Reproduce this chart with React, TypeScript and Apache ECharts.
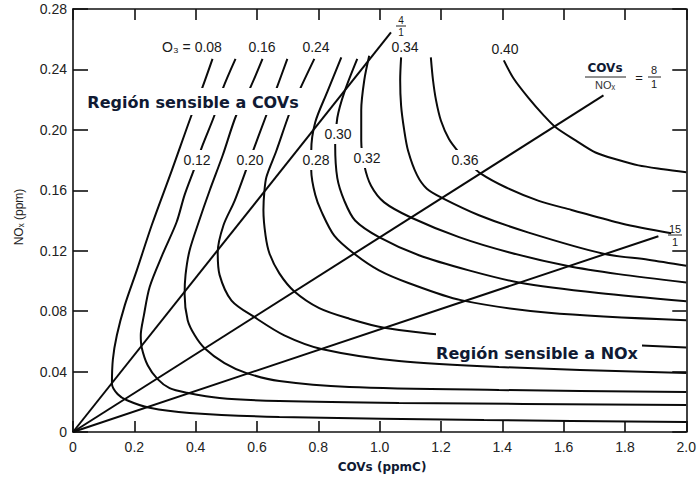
import { useEffect, useRef } from "react";
import * as echarts from "echarts";

// Ozone isopleth levels (ppm)
const ozoneLevels = ["0.08", "0.12", "0.16", "0.20", "0.24", "0.28", "0.30", "0.32", "0.34", "0.36", "0.40"];

// Each isopleth: [COVs (ppmC), NOx (ppm)]
const iso008 = [[0.455, 0.247], [0.420, 0.227], [0.387, 0.210], [0.322, 0.173], [0.257, 0.137], [0.208, 0.107], [0.169, 0.084], [0.143, 0.064], [0.130, 0.048], [0.127, 0.032], [0.146, 0.025], [0.176, 0.021], [0.250, 0.016], [0.380, 0.0126], [0.673, 0.0099], [1.340, 0.0079], [2.0, 0.0066]];
const iso012 = [[0.530, 0.247], [0.488, 0.227], [0.462, 0.210], [0.423, 0.190], [0.397, 0.175], [0.364, 0.157], [0.338, 0.139], [0.293, 0.118], [0.250, 0.096], [0.231, 0.077], [0.221, 0.064], [0.224, 0.056], [0.244, 0.044], [0.276, 0.035], [0.315, 0.029], [0.371, 0.026], [0.478, 0.0225], [0.673, 0.0205], [1.063, 0.0192], [2.0, 0.0179]];
const iso016 = [[0.618, 0.247], [0.576, 0.227], [0.533, 0.210], [0.488, 0.183], [0.446, 0.160], [0.410, 0.139], [0.380, 0.120], [0.367, 0.104], [0.364, 0.091], [0.374, 0.074], [0.397, 0.064], [0.429, 0.0555], [0.494, 0.0456], [0.566, 0.039], [0.673, 0.0337], [0.901, 0.0298], [1.389, 0.0278], [2.0, 0.0264]];
const iso020 = [[0.699, 0.247], [0.663, 0.227], [0.631, 0.210], [0.576, 0.180], [0.527, 0.153], [0.491, 0.137], [0.472, 0.119], [0.478, 0.104], [0.517, 0.087], [0.592, 0.076], [0.689, 0.064], [0.810, 0.055], [1.063, 0.047], [1.389, 0.043], [2.0, 0.039]];
const iso024 = [[0.787, 0.247], [0.738, 0.226], [0.706, 0.211], [0.663, 0.186], [0.631, 0.169], [0.624, 0.159], [0.621, 0.147], [0.628, 0.130], [0.641, 0.118], [0.673, 0.105], [0.722, 0.093], [0.803, 0.082], [0.901, 0.075], [1.015, 0.069], [1.226, 0.064], [1.551, 0.060], [2.0, 0.056]];
const iso028 = [[0.875, 0.248], [0.829, 0.225], [0.790, 0.205], [0.777, 0.186], [0.777, 0.173], [0.790, 0.157], [0.810, 0.146], [0.852, 0.130], [0.917, 0.118], [0.998, 0.107], [1.096, 0.0985], [1.265, 0.0873], [1.551, 0.079], [2.0, 0.074]];
const iso030 = [[0.927, 0.247], [0.885, 0.225], [0.862, 0.208], [0.855, 0.190], [0.862, 0.168], [0.885, 0.153], [0.920, 0.140], [0.998, 0.129], [1.128, 0.117], [1.291, 0.107], [1.454, 0.099], [1.714, 0.092], [2.0, 0.0866]];
const iso032 = [[0.966, 0.249], [0.950, 0.233], [0.940, 0.213], [0.940, 0.193], [0.950, 0.1765], [0.972, 0.163], [1.015, 0.152], [1.102, 0.142], [1.259, 0.129], [1.421, 0.119], [1.610, 0.110], [1.779, 0.1045], [2.0, 0.099]];
const iso034 = [[1.070, 0.248], [1.067, 0.233], [1.070, 0.216], [1.080, 0.200], [1.093, 0.186], [1.122, 0.170], [1.154, 0.161], [1.203, 0.155], [1.324, 0.1435], [1.486, 0.132], [1.730, 0.118], [1.876, 0.114], [2.0, 0.110]];
const iso036 = [[1.167, 0.248], [1.174, 0.233], [1.184, 0.2195], [1.200, 0.206], [1.226, 0.194], [1.259, 0.185], [1.291, 0.178], [1.330, 0.171], [1.411, 0.162], [1.519, 0.153], [1.626, 0.147], [1.789, 0.138], [1.951, 0.1316]];
const iso040 = [[1.405, 0.246], [1.437, 0.234], [1.486, 0.221], [1.535, 0.2096], [1.574, 0.2017], [1.639, 0.193], [1.704, 0.185], [1.779, 0.180], [1.844, 0.1765], [1.925, 0.174], [2.0, 0.172]];

const isopleths = [iso008, iso012, iso016, iso020, iso024, iso028, iso030, iso032, iso034, iso036, iso040];

// COVs/NOx ratio lines
const ratio4 = [[0, 0], [1.037, 0.2645]];
const ratio8 = [[0, 0], [1.73, 0.2228]];
const ratio15 = [[0, 0], [1.909, 0.1296]];

const FONT = '"Liberation Sans", Arial, sans-serif';
const BOLD_FONT = '"DejaVu Sans", Verdana, sans-serif';
const NAVY = "#101a33";

function txt(text: string, x: number, y: number, size: number, extra: any = {}) {
  return {
    type: "text",
    x,
    y,
    z: 100,
    silent: true,
    style: {
      text,
      fontSize: size,
      fontFamily: FONT,
      fill: "#1a1a1a",
      align: "center",
      verticalAlign: "middle",
      textAlign: "center",
      textVerticalAlign: "middle",
      ...extra,
    },
  };
}

function hline(x1: number, x2: number, y: number, w = 1) {
  return { type: "line", z: 100, silent: true, shape: { x1, y1: y, x2, y2: y }, style: { stroke: "#222", lineWidth: w } };
}

export default function App() {
  const ref = useRef<HTMLDivElement>(null);

  useEffect(() => {
    if (!ref.current) return;
    const chart = echarts.init(ref.current, undefined, { renderer: "svg" });

    const axisLine = { show: true, onZero: false, lineStyle: { color: "#111", width: 1.6 } };
    const labelStyle = { color: "#222", fontSize: 14, fontFamily: FONT };

    const topLabels = [
      { t: "O₃ = " + ozoneLevels[0], x: 192, y: 47 },
      { t: ozoneLevels[2], x: 262, y: 47 },
      { t: ozoneLevels[4], x: 316, y: 47 },
      { t: ozoneLevels[8], x: 405, y: 47 },
      { t: ozoneLevels[10], x: 505, y: 49 },
    ];
    const midLabels = [
      { t: ozoneLevels[1], x: 197, y: 160 },
      { t: ozoneLevels[3], x: 250, y: 160 },
      { t: ozoneLevels[5], x: 316, y: 160 },
      { t: ozoneLevels[6], x: 338, y: 134 },
      { t: ozoneLevels[7], x: 367, y: 158 },
      { t: ozoneLevels[9], x: 465, y: 160 },
    ];

    const graphics: any[] = [
      // white patches behind region texts
      { type: "rect", z: 99, silent: true, shape: { x: 86, y: 88, width: 218, height: 27 }, style: { fill: "#fff" } },
      { type: "rect", z: 99, silent: true, shape: { x: 436, y: 329, width: 206, height: 32 }, style: { fill: "#fff" } },
      txt("Región sensible a COVs", 193, 102, 16, { fontFamily: BOLD_FONT, fontWeight: "bold", fill: NAVY }),
      txt("Región sensible a NOx", 537, 353, 16, { fontFamily: BOLD_FONT, fontWeight: "bold", fill: NAVY }),
      ...topLabels.map((l) => txt(l.t, l.x, l.y, 14)),
      ...midLabels.map((l) => txt(l.t, l.x, l.y, 14, { backgroundColor: "#fff", padding: [3, 2] })),
      // 4/1
      txt("4", 401, 20, 10),
      hline(396, 406, 26),
      txt("1", 401, 32, 10),
      // 15/1
      txt("15", 675, 229, 11),
      hline(668, 682, 235),
      txt("1", 675, 242, 11),
      // COVs/NOx = 8/1
      txt("COVs", 605, 68, 12, { fontFamily: BOLD_FONT, fontWeight: "bold", fill: NAVY }),
      hline(585, 626, 77),
      txt("NOₓ", 605, 85, 11, { fill: "#333" }),
      txt("=", 639, 77, 13),
      txt("8", 654, 70, 11),
      hline(648, 661, 77),
      txt("1", 654, 84, 11),
      // axis names
      txt("COVs (ppmC)", 382, 467, 12, { fontFamily: BOLD_FONT, fontWeight: "bold", fill: NAVY }),
      { ...txt("NOₓ (ppm)", 19, 217, 12, { fill: "#222" }), rotation: Math.PI / 2 },
    ];

    const option: any = {
      animation: false,
      textStyle: { fontFamily: FONT },
      grid: { left: 73, right: 11, top: 9, bottom: 49 },
      xAxis: [
        {
          type: "value", min: 0, max: 2, interval: 0.2, position: "bottom",
          axisLine, axisTick: { inside: true, length: 11, lineStyle: { color: "#111", width: 1.6 } },
          axisLabel: { ...labelStyle, margin: 8, formatter: (v: number) => (v === 0 ? "0" : v.toFixed(1)) },
          splitLine: { show: false },
        },
        {
          type: "value", min: 0, max: 2, interval: 0.2, position: "top",
          axisLine, axisTick: { inside: true, length: 11, lineStyle: { color: "#111", width: 1.6 } },
          axisLabel: { show: false }, splitLine: { show: false },
        },
      ],
      yAxis: [
        {
          type: "value", min: 0, max: 0.28, interval: 0.04, position: "left",
          axisLine, axisTick: { inside: true, length: 15, lineStyle: { color: "#111", width: 1.6 } },
          axisLabel: { ...labelStyle, margin: 6, formatter: (v: number) => (v === 0 ? "0" : v.toFixed(2)) },
          splitLine: { show: false },
        },
        {
          type: "value", min: 0, max: 0.28, interval: 0.04, position: "right",
          axisLine, axisTick: { inside: true, length: 14, lineStyle: { color: "#111", width: 1.6 } },
          axisLabel: { show: false }, splitLine: { show: false },
        },
      ],
      series: [
        ...isopleths.map((d, i) => ({
          name: "O3 " + ozoneLevels[i],
          type: "line",
          xAxisIndex: 0,
          yAxisIndex: 0,
          data: d,
          symbol: "none",
          smooth: 0.3,
          silent: true,
          lineStyle: { color: "#0a0a0a", width: 2 },
        })),
        ...[ratio4, ratio8, ratio15].map((d, i) => ({
          name: "ratio" + i,
          type: "line",
          xAxisIndex: 0,
          yAxisIndex: 0,
          data: d,
          symbol: "none",
          silent: true,
          lineStyle: { color: "#0a0a0a", width: 2 },
        })),
      ],
      graphic: { elements: graphics },
    };

    chart.setOption(option);
    return () => chart.dispose();
  }, []);

  return <div ref={ref} style={{ position: "absolute", left: 0, top: 0, width: 699, height: 481, background: "#fff" }} />;
}
